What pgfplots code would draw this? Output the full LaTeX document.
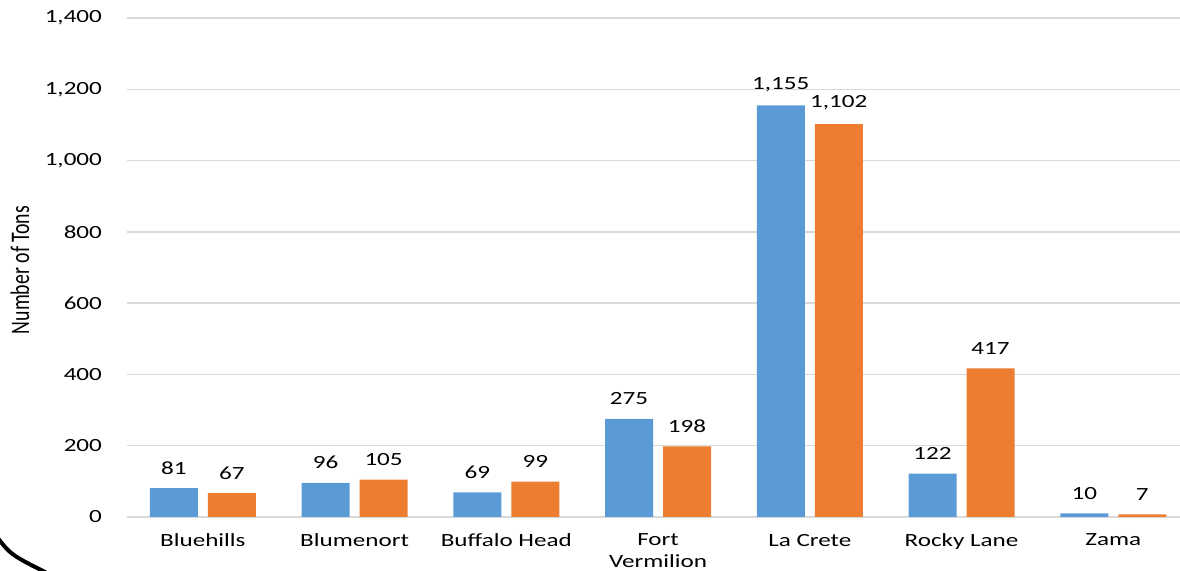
\documentclass[border=0pt]{standalone}
\usepackage{fontspec}
\setmainfont{Carlito}
\newfontfamily\widefont[FakeStretch=1.35]{Carlito}
\newfontfamily\narrowfont[FakeStretch=0.74]{Carlito}
\usepackage{pgfplots}
\pgfplotsset{compat=1.18}
\definecolor{barblue}{HTML}{5B9BD5}
\definecolor{barorange}{HTML}{ED7D31}
\definecolor{gridgray}{HTML}{D9D9D9}

\begin{document}
\begin{tikzpicture}
\path[use as bounding box] (-63.5pt,-27pt) rectangle (526.5pt,258.5pt);
\begin{axis}[
    scale only axis,
    width=526.5pt, height=249.5pt,
    ybar=5pt, bar width=24pt,
    xmin=-0.5, xmax=6.44,
    ymin=0, ymax=1400,
    xtick={0,...,6},
    xticklabels={Bluehills, Blumenort, Buffalo Head, Fort\\Vermilion, La Crete, Rocky Lane, Zama},
    ytick={0,200,...,1400},
    axis line style={draw=none},
    major tick length=0pt,
    ymajorgrids,
    grid style={draw=gridgray, line width=0.7pt},
    /pgf/number format/.cd, 1000 sep={,}, assume math mode=true,
    /pgfplots/.cd,
    yticklabel style={font=\widefont\fontsize{9.3}{11}\selectfont, xshift=-9pt},
    xticklabel style={font=\widefont\fontsize{9.3}{11}\selectfont, align=center, yshift=-5pt},
    ylabel={Number of Tons},
    ylabel style={font=\narrowfont\fontsize{13.4}{15}\selectfont, at={(axis description cs:-0.1016,0.495)}, anchor=center},
    nodes near coords,
    nodes near coords style={font=\widefont\fontsize{9.3}{11}\selectfont, anchor=south, yshift=3.4pt, text=black},
]
\addplot[fill=barblue, draw=none] coordinates {
    (0,81) (1,96) (2,69) (3,275) (4,1155) (5,122) (6,10)
};
\addplot[fill=barorange, draw=none] coordinates {
    (0,67) (1,105) (2,99) (3,198) (4,1102) (5,417) (6,7)
};
\end{axis}
\draw[line width=2pt] (-65pt,-10pt) .. controls (-58pt,-19pt) .. (-38pt,-29pt);
\end{tikzpicture}
\end{document}
